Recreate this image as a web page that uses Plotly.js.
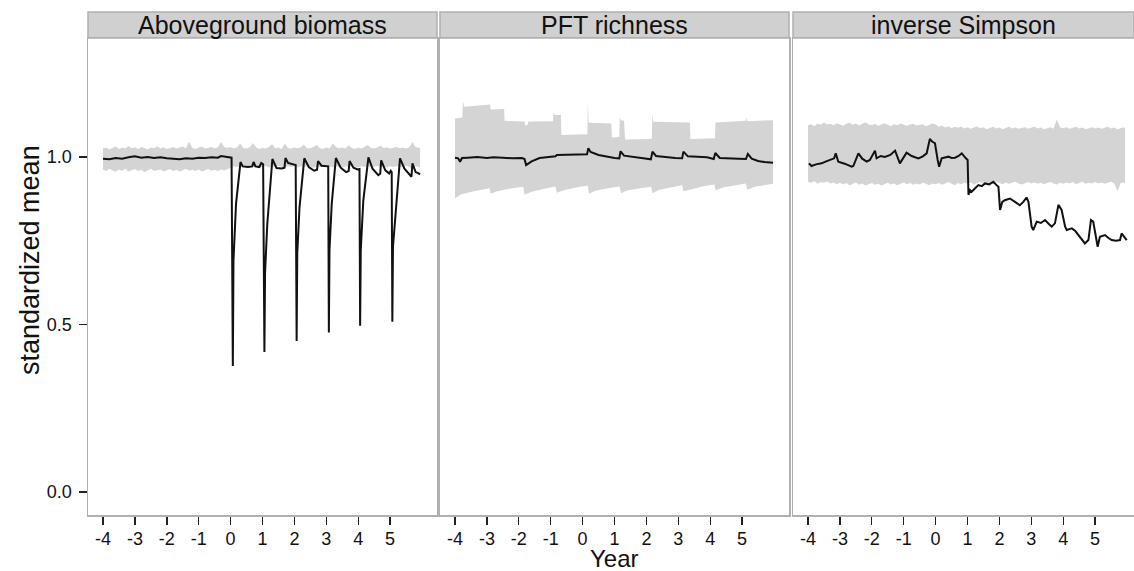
<!DOCTYPE html>
<html>
<head>
<meta charset="utf-8">
<script src="https://cdn.plot.ly/plotly-3.0.1.min.js"></script>
<style>html,body{margin:0;padding:0;background:#fff;}#chart{width:1134px;height:571px;}</style>
</head>
<body>
<div id="chart"></div>
<script>
// ---------- DATA ----------
const panelTitles = ["Aboveground biomass", "PFT richness", "inverse Simpson"];
const xTickVals = [-4, -3, -2, -1, 0, 1, 2, 3, 4, 5];
const xTickText = ["-4", "-3", "-2", "-1", "0", "1", "2", "3", "4", "5"];
const yTickVals = [0, 0.5, 1.0];
const yTickText = ["0.0", "0.5", "1.0"];

const ribbonYears = [
 -4.0,-3.9,-3.8,-3.7,-3.6,-3.5,-3.4,-3.3,-3.2,-3.1,
 -3.0,-2.9,-2.8,-2.7,-2.6,-2.5,-2.4,-2.3,-2.2,-2.1,
 -2.0,-1.9,-1.8,-1.7,-1.6,-1.5,-1.4,-1.3,-1.2,-1.1,
 -1.0,-0.9,-0.8,-0.7,-0.6,-0.5,-0.4,-0.3,-0.2,-0.1,
 0.0,0.1,0.2,0.3,0.4,0.5,0.6,0.7,0.8,0.9,
 1.0,1.1,1.2,1.3,1.4,1.5,1.6,1.7,1.8,1.9,
 2.0,2.1,2.2,2.3,2.4,2.5,2.6,2.7,2.8,2.9,
 3.0,3.1,3.2,3.3,3.4,3.5,3.6,3.7,3.8,3.9,
 4.0,4.1,4.2,4.3,4.4,4.5,4.6,4.7,4.8,4.9,
 5.0,5.1,5.2,5.3,5.4,5.5,5.6,5.7,5.8,5.9,
 5.94];

const biomassUpper = [
 1.025,1.028,1.022,1.027,1.031,1.024,1.028,1.025,1.033,1.026,
 1.029,1.024,1.030,1.027,1.022,1.028,1.026,1.032,1.025,1.029,
 1.024,1.027,1.030,1.025,1.028,1.031,1.026,1.046,1.027,1.024,
 1.028,1.031,1.025,1.027,1.030,1.026,1.029,1.045,1.030,1.027,
 1.030,1.025,1.028,1.040,1.027,1.025,1.029,1.042,1.028,1.024,
 1.027,1.025,1.030,1.038,1.026,1.028,1.024,1.040,1.027,1.025,
 1.028,1.026,1.029,1.037,1.025,1.027,1.030,1.036,1.026,1.024,
 1.028,1.025,1.040,1.030,1.026,1.028,1.025,1.035,1.027,1.024,
 1.028,1.025,1.030,1.036,1.027,1.025,1.028,1.034,1.026,1.029,
 1.025,1.027,1.030,1.026,1.028,1.025,1.029,1.045,1.030,1.027,
 1.028];
const biomassLower = [
 0.962,0.958,0.965,0.960,0.956,0.963,0.959,0.966,0.957,0.961,
 0.964,0.958,0.962,0.955,0.960,0.965,0.958,0.961,0.963,0.957,
 0.960,0.964,0.958,0.962,0.956,0.961,0.965,0.959,0.962,0.958,
 0.963,0.957,0.961,0.964,0.959,0.962,0.958,0.963,0.960,0.965,
 0.968,0.972,0.970,0.974,0.971,0.969,0.973,0.970,0.972,0.968,
 0.971,0.973,0.969,0.972,0.970,0.974,0.971,0.968,0.972,0.970,
 0.973,0.969,0.972,0.970,0.974,0.971,0.968,0.972,0.970,0.973,
 0.970,0.972,0.969,0.973,0.971,0.968,0.972,0.970,0.974,0.971,
 0.969,0.972,0.970,0.973,0.968,0.971,0.974,0.970,0.972,0.969,
 0.972,0.970,0.973,0.969,0.971,0.974,0.970,0.962,0.972,0.970,
 0.968];

const biomassLineYears = [
 -4.0,-3.8,-3.6,-3.4,-3.2,-3.0,-2.8,-2.6,-2.4,-2.2,-2.0,-1.8,-1.6,-1.4,-1.2,-1.0,-0.8,-0.6,-0.4,-0.3,-0.2,-0.05,0.03,
 0.07,0.09,0.17,0.31,0.38,0.55,0.68,0.72,0.78,0.90,0.96,1.02,
 1.06,1.08,1.15,1.31,1.44,1.60,1.69,1.72,1.80,1.95,2.04,
 2.07,2.09,2.16,2.31,2.45,2.62,2.71,2.74,2.85,3.00,3.06,
 3.08,3.10,3.17,3.30,3.45,3.62,3.70,3.73,3.85,3.98,4.04,
 4.06,4.08,4.16,4.32,4.45,4.63,4.69,4.72,4.85,4.97,5.02,5.05,
 5.07,5.09,5.20,5.31,5.45,5.63,5.67,5.70,5.80,5.88,5.94];
const biomassLine = [
 0.995,0.993,0.997,0.995,0.999,1.002,0.998,1.000,0.997,0.999,0.996,0.994,0.993,0.996,0.995,0.998,0.997,0.999,0.998,1.003,1.002,1.000,0.998,
 0.376,0.690,0.860,0.985,0.972,0.970,0.972,0.985,0.972,0.970,0.982,0.978,
 0.418,0.654,0.800,0.994,0.967,0.966,0.968,0.997,0.982,0.978,0.976,
 0.451,0.713,0.850,0.996,0.970,0.959,0.962,0.988,0.974,0.971,0.972,
 0.476,0.722,0.860,0.997,0.968,0.955,0.958,0.988,0.968,0.963,0.964,
 0.496,0.722,0.870,0.999,0.965,0.946,0.950,0.990,0.960,0.951,0.959,0.955,
 0.508,0.732,0.862,0.996,0.965,0.943,0.941,0.981,0.955,0.952,0.948];

const pftUpperYears = [
 -4.0,-3.77,-3.755,-3.74,-3.72,-3.3,-2.9,-2.885,-2.46,-2.445,-1.82,-1.80,-1.72,-1.70,-0.93,-0.91,-0.87,-0.68,-0.665,
 0.15,0.165,0.19,0.90,0.92,1.15,1.165,1.20,1.30,1.33,2.17,2.185,2.21,3.36,3.38,4.15,4.165,4.60,5.12,5.14,5.17,5.97];
const pftUpper = [
 1.115,1.118,1.160,1.166,1.150,1.153,1.157,1.142,1.143,1.108,1.106,1.094,1.096,1.106,1.107,1.132,1.125,1.125,1.066,
 1.068,1.165,1.102,1.100,1.058,1.060,1.118,1.110,1.108,1.052,1.054,1.130,1.105,1.103,1.054,1.056,1.103,1.106,1.108,1.118,1.107,1.110];
const pftLowerYears = [
 -4.0,-3.8,-3.4,-2.92,-2.88,-2.7,-2.3,-1.86,-1.82,-1.6,-1.2,-0.85,-0.81,-0.6,-0.2,0.16,0.20,0.4,0.8,1.16,1.20,1.4,1.8,2.15,2.19,
 2.4,2.8,3.12,3.16,3.4,3.8,4.13,4.17,4.4,4.8,5.12,5.16,5.4,5.97];
const pftLower = [
 0.877,0.889,0.898,0.907,0.890,0.897,0.905,0.911,0.887,0.896,0.905,0.912,0.893,0.901,0.909,0.915,0.890,0.899,0.907,0.912,0.892,0.900,0.907,0.911,0.892,
 0.902,0.910,0.916,0.898,0.905,0.913,0.918,0.901,0.909,0.916,0.921,0.902,0.911,0.920];
const pftLineYears = [
 -4.0,-3.9,-3.84,-3.78,-3.6,-3.3,-3.0,-2.8,-2.5,-2.2,-1.9,-1.82,-1.77,-1.6,-1.35,-1.0,-0.85,-0.81,-0.5,-0.2,0.14,
 0.18,0.25,0.5,0.8,1.0,1.15,1.19,1.3,1.6,1.9,2.14,2.19,2.3,2.6,2.9,3.12,3.16,3.3,3.6,3.9,4.11,4.16,4.3,4.6,4.9,5.12,5.18,5.3,5.5,5.7,5.97];
const pftLine = [
 0.998,0.996,0.986,0.997,0.998,1.000,0.997,0.999,0.998,0.996,0.997,0.994,0.976,0.987,0.997,1.000,1.002,1.006,1.007,1.008,1.008,
 1.026,1.015,1.006,1.000,0.997,0.996,1.017,1.004,0.999,0.996,0.993,1.016,1.003,0.999,0.997,0.996,1.016,1.002,1.001,0.999,0.994,1.012,0.997,0.995,0.995,0.994,1.009,0.995,0.988,0.985,0.983];

const simpsonUpper = [
 1.095,1.098,1.092,1.100,1.096,1.103,1.097,1.099,1.094,1.101,
 1.097,1.093,1.099,1.102,1.096,1.100,1.094,1.098,1.104,1.097,
 1.095,1.099,1.093,1.097,1.101,1.096,1.092,1.098,1.095,1.100,
 1.096,1.093,1.097,1.099,1.094,1.096,1.098,1.092,1.095,1.100,
 1.097,1.090,1.093,1.088,1.092,1.086,1.090,1.087,1.091,1.085,
 1.089,1.084,1.088,1.091,1.086,1.089,1.083,1.087,1.090,1.085,
 1.088,1.083,1.087,1.090,1.085,1.088,1.084,1.086,1.089,1.084,
 1.087,1.090,1.085,1.088,1.083,1.087,1.089,1.084,1.113,1.088,
 1.086,1.089,1.084,1.087,1.090,1.085,1.088,1.083,1.087,1.089,
 1.085,1.088,1.084,1.086,1.090,1.085,1.088,1.083,1.087,1.089,
 1.086];
const simpsonLower = [
 0.926,0.922,0.928,0.920,0.925,0.923,0.927,0.921,0.924,0.919,
 0.923,0.918,0.922,0.916,0.920,0.924,0.917,0.921,0.915,0.919,
 0.922,0.917,0.920,0.915,0.919,0.923,0.918,0.921,0.916,0.920,
 0.924,0.919,0.922,0.917,0.921,0.918,0.923,0.920,0.916,0.921,
 0.919,0.922,0.917,0.921,0.925,0.920,0.916,0.922,0.919,0.923,
 0.920,0.924,0.918,0.922,0.926,0.921,0.919,0.923,0.920,0.925,
 0.922,0.919,0.924,0.920,0.923,0.926,0.921,0.918,0.922,0.925,
 0.921,0.924,0.920,0.923,0.919,0.922,0.925,0.921,0.918,0.923,
 0.920,0.924,0.921,0.925,0.919,0.922,0.926,0.920,0.923,0.921,
 0.925,0.921,0.924,0.920,0.923,0.926,0.921,0.898,0.922,0.924,
 0.920];

const simpsonLineYears = [
 -3.97,-3.93,-3.89,-3.75,-3.57,-3.45,-3.31,-3.18,-3.13,-3.05,-2.85,-2.63,-2.58,-2.50,-2.42,-2.30,-2.16,-2.06,-1.90,-1.85,-1.72,-1.59,-1.42,-1.27,-1.12,-0.91,-0.83,-0.75,-0.54,-0.40,-0.28,-0.18,-0.11,-0.02,
 0.065,0.11,0.19,0.30,0.40,0.50,0.61,0.72,0.82,0.95,1.004,1.03,1.08,1.13,1.34,1.45,1.55,1.68,1.81,1.91,1.97,
 2.02,2.09,2.17,2.33,2.49,2.64,2.75,2.85,2.91,3.01,3.06,3.17,3.30,3.43,3.55,3.64,3.74,3.85,3.95,
 4.06,4.11,4.27,4.38,4.47,4.58,4.68,4.79,4.87,4.94,5.02,5.08,5.15,5.31,5.42,5.52,5.65,5.78,5.83,5.91,5.99];
const simpsonLine = [
 0.981,0.976,0.973,0.978,0.981,0.986,0.991,0.996,1.011,0.986,0.980,0.971,0.973,0.990,1.011,0.995,0.986,0.991,1.019,0.996,1.003,1.000,1.006,1.019,0.981,1.013,1.008,1.003,0.996,1.002,1.011,1.054,1.046,1.041,
 0.991,0.971,0.996,0.999,1.001,0.997,0.998,1.003,1.011,0.996,0.991,0.887,0.901,0.896,0.916,0.913,0.921,0.918,0.926,0.916,0.911,
 0.842,0.866,0.871,0.876,0.866,0.856,0.866,0.879,0.866,0.792,0.782,0.807,0.803,0.812,0.800,0.792,0.802,0.857,0.842,
 0.792,0.782,0.787,0.779,0.767,0.755,0.742,0.752,0.812,0.807,0.767,0.732,0.762,0.767,0.758,0.752,0.750,0.752,0.772,0.762,0.752];

// ---------- BUILD ----------
const RIBBON = "#d4d4d4";
const LINE = "#111111";
function ribbon(xsUp, up, xsLo, lo, axis) {
  return {
    x: xsUp.concat(xsLo.slice().reverse()),
    y: up.concat(lo.slice().reverse()),
    type: "scatter", mode: "lines", fill: "toself",
    fillcolor: RIBBON, line: {width: 0, color: RIBBON},
    xaxis: "x" + axis, yaxis: "y" + axis, hoverinfo: "skip", showlegend: false
  };
}
function meanLine(xs, ys, axis) {
  return {x: xs, y: ys, type: "scatter", mode: "lines",
    line: {color: LINE, width: 2}, xaxis: "x" + axis, yaxis: "y" + axis, showlegend: false};
}
const data = [
  ribbon(ribbonYears, biomassUpper, ribbonYears, biomassLower, ""),
  meanLine(biomassLineYears, biomassLine, ""),
  ribbon(pftUpperYears, pftUpper, pftLowerYears, pftLower, "2"),
  meanLine(pftLineYears, pftLine, "2"),
  ribbon(ribbonYears, simpsonUpper, ribbonYears, simpsonLower, "3"),
  meanLine(simpsonLineYears, simpsonLine, "3")
];

const W = 1134, H = 571;
const px = v => v / W, py = v => (H - v) / H;
const yDom = [py(515), py(38)];
const yRange = [-0.0687, 1.3552];
const FONT = "Liberation Sans, Arial, sans-serif";
const borderColor = "#b0b0b0";

function xAxis(dom, range) {
  return {domain: dom, range: range, tickvals: xTickVals, ticktext: xTickText,
    ticks: "outside", ticklen: 8, tickwidth: 1.4, tickcolor: "#222",
    showline: true, mirror: true, linecolor: borderColor, linewidth: 1.5,
    showgrid: false, zeroline: false, ticklabelstandoff: -1,
    tickfont: {family: FONT, size: 18, color: "#111"}, fixedrange: true};
}
function yAxis(anchor, show) {
  return {domain: yDom, range: yRange, anchor: anchor,
    tickvals: show ? yTickVals : [], ticktext: show ? yTickText : [],
    ticks: show ? "outside" : "", ticklen: 8, tickwidth: 1.4, tickcolor: "#222",
    showline: true, mirror: true, linecolor: borderColor, linewidth: 1.5,
    showgrid: false, zeroline: false, showticklabels: show, ticklabelstandoff: 3,
    tickfont: {family: FONT, size: 18, color: "#111"}, fixedrange: true};
}

const doms = [[px(88), px(437)], [px(440), px(789)], [px(793), 1]];
const ranges = [[-4.47, 6.47], [-4.47, 6.47], [-4.47, 6.219]];

const shapes = [], annotations = [];
doms.forEach((d, i) => {
  shapes.push({type: "rect", xref: "paper", yref: "paper", x0: d[0], x1: d[1],
    y0: py(38), y1: py(12), fillcolor: "#d0d0d0", line: {color: borderColor, width: 1.5}, layer: "below"});
  annotations.push({xref: "paper", yref: "paper", x: (d[0] + Math.min(d[1], px(1141))) / 2,
    y: py(25), text: panelTitles[i], showarrow: false, xanchor: "center", yanchor: "middle",
    font: {family: FONT, size: 25, color: "#111"}});
});
annotations.push({xref: "paper", yref: "paper", x: px(30), y: py(260), text: "standardized mean",
  textangle: -90, showarrow: false, xanchor: "center", yanchor: "middle",
  font: {family: FONT, size: 27, color: "#111"}});
annotations.push({xref: "paper", yref: "paper", x: px(614), y: 0, text: "Year",
  showarrow: false, xanchor: "center", yanchor: "bottom", yshift: -3,
  font: {family: FONT, size: 24, color: "#111"}});

const layout = {
  width: W, height: H, margin: {l: 0, r: 0, t: 0, b: 0, pad: 0},
  paper_bgcolor: "#fff", plot_bgcolor: "#fff", showlegend: false,
  xaxis: xAxis(doms[0], ranges[0]), xaxis2: xAxis(doms[1], ranges[1]), xaxis3: xAxis(doms[2], ranges[2]),
  yaxis: yAxis("x", true), yaxis2: yAxis("x2", false), yaxis3: yAxis("x3", false),
  shapes: shapes, annotations: annotations
};
layout.xaxis.anchor = "y"; layout.xaxis2.anchor = "y2"; layout.xaxis3.anchor = "y3";

Plotly.newPlot("chart", data, layout, {displayModeBar: false, staticPlot: true});
</script>
</body>
</html>
